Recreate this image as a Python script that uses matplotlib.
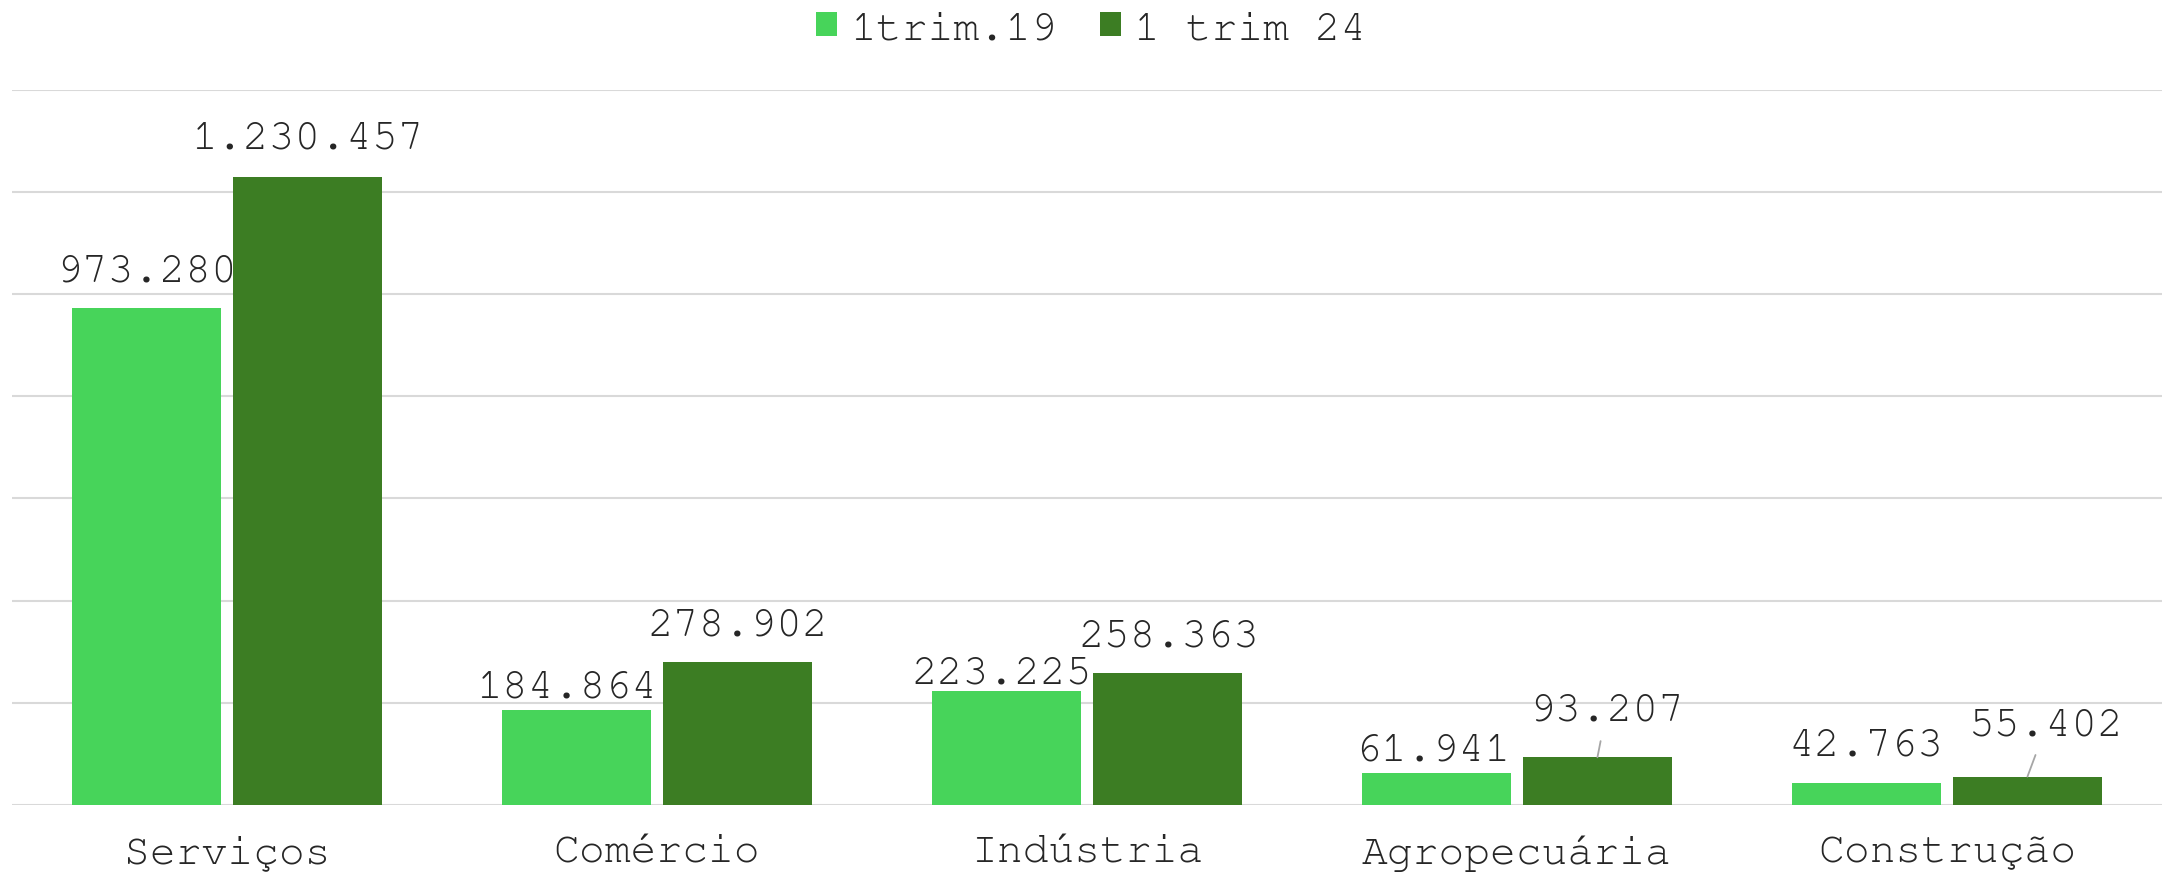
import matplotlib
matplotlib.use("Agg")
import matplotlib.pyplot as plt
import numpy as np
import logging
logging.getLogger('matplotlib.font_manager').setLevel(logging.ERROR)

categories = ["Serviços", "Comércio", "Indústria", "Agropecuária", "Construção"]
series_names = ["1trim.19", "1 trim 24"]
values_19 = [973280, 184864, 223225, 61941, 42763]
values_24 = [1230457, 278902, 258363, 93207, 55402]
colors = ["#47D45A", "#3C7D23"]

def fmt(v):
    return f"{v:,}".replace(",", ".")

# label offsets (pixels) relative to bar top center, mimicking Excel placement
off_19 = [(0, 36), (-10, 22), (-5, 17), (-4, 22), (-1, 37)]
off_24 = [(0, 38), (0, 36), (1, 36), (9, 46), (19, 51)]
leader_24 = [False, False, False, True, True]

plt.rcParams['font.family'] = ['Courier New', 'Nimbus Mono PS', 'FreeMono', 'Liberation Mono', 'DejaVu Sans Mono']
fig = plt.figure(figsize=(21.69, 8.73), dpi=100)
ax = fig.add_axes([0.0055, 0.078, 0.9913, 0.819])

x = np.arange(len(categories))
w = 0.348
gap = 0.026
b1 = ax.bar(x - (w + gap) / 2, values_19, w, color=colors[0], label=series_names[0], zorder=3)
b2 = ax.bar(x + (w + gap) / 2, values_24, w, color=colors[1], label=series_names[1], zorder=3)

ax.set_xlim(-0.5, len(categories) - 0.5)
ax.set_ylim(0, 1400000)
ax.set_yticks(np.arange(0, 1400001, 200000))
ax.yaxis.grid(True, color="#D9D9D9", linewidth=1.5, zorder=0)
ax.set_yticklabels([])
ax.tick_params(axis='y', length=0)
ax.tick_params(axis='x', length=0, pad=22, labelsize=31, labelcolor="#262626")
ax.set_xticks(x)
ax.set_xticklabels(categories)
for s in ax.spines.values():
    s.set_visible(False)

for bars, vals, offs, leaders in [(b1, values_19, off_19, [False]*5), (b2, values_24, off_24, leader_24)]:
    for bar, v, (dx, dy), ld in zip(bars, vals, offs, leaders):
        cx = bar.get_x() + bar.get_width() / 2
        kw = {}
        if ld:
            kw['arrowprops'] = dict(arrowstyle='-', color='#A6A6A6', lw=1.3, shrinkA=7, shrinkB=0)
        ax.annotate(fmt(v), xy=(cx, v), xytext=(dx, dy), textcoords='offset pixels',
                    ha='center', va='center', fontsize=31, color="#262626", zorder=4, **kw)

leg = fig.legend(loc='upper center', bbox_to_anchor=(0.503, 1.031), ncol=2, frameon=False,
                 fontsize=31, handlelength=0.5, handleheight=0.5, handletextpad=0.3,
                 columnspacing=1.0, labelcolor="#262626")

fig.savefig("out.png", dpi=100)
